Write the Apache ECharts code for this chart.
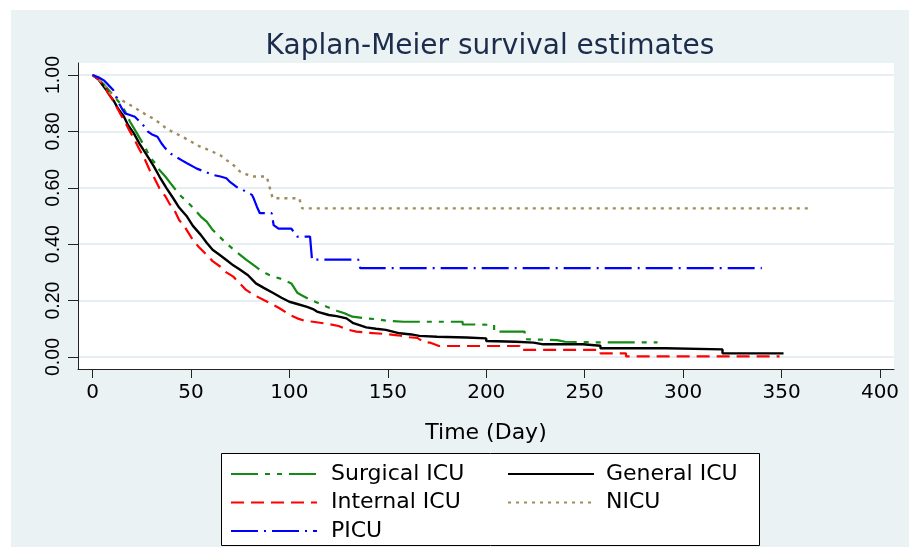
<!DOCTYPE html>
<html>
<head>
<meta charset="utf-8">
<script src="https://cdn.jsdelivr.net/npm/echarts@6/dist/echarts.min.js"></script>
<style>html,body{margin:0;padding:0;background:#fff}#c{width:909px;height:547px}</style>
</head>
<body>
<div id="c"></div>
<script>
// ---- data ----
const xTicks = [0, 50, 100, 150, 200, 250, 300, 350, 400];
const yTicks = [0, 0.2, 0.4, 0.6, 0.8, 1.0];
const seriesNames = ['Surgical ICU', 'General ICU', 'Internal ICU', 'NICU', 'PICU'];

// Kaplan-Meier curves as vertices; a repeated day marks a visible vertical step
const surgicalDays = [0,3,6,9,12,14,17,19,22,24,27,29,32,34,37,39,42,45,48,51,55,58,61,64,68,71,75,78,81,85,88,91,95,98,101,102,104,106,110,114,119,124,128,132,138,144,150,158,188,188,204,204,219.5,219.5,236,240,256,287];
const surgicalSurv = [1.000,0.985,0.965,0.941,0.915,0.900,0.866,0.835,0.800,0.776,0.740,0.711,0.685,0.663,0.640,0.622,0.595,0.570,0.551,0.530,0.498,0.480,0.451,0.430,0.403,0.385,0.362,0.345,0.330,0.309,0.297,0.287,0.279,0.270,0.261,0.261,0.228,0.220,0.205,0.193,0.178,0.164,0.155,0.143,0.138,0.134,0.128,0.125,0.125,0.116,0.114,0.090,0.090,0.063,0.060,0.054,0.052,0.052];

const generalDays = [0,3,5,7,9,11,13,16,18,21,24,27.5,31,34,37.5,41,44,48,51,55,58,61,65,68,71.5,75,79,83,87,92,96,100,104,109,112,114,120,124,129,132.5,136,139,144,149,156,162,166,175,190,200,200,215,224,229,249,249,258,258,291,291,320,320,351];
const generalSurv = [1.000,0.985,0.965,0.947,0.925,0.906,0.880,0.852,0.823,0.793,0.755,0.717,0.678,0.640,0.600,0.563,0.530,0.498,0.465,0.433,0.405,0.380,0.360,0.344,0.325,0.309,0.290,0.261,0.245,0.226,0.210,0.196,0.188,0.178,0.170,0.161,0.149,0.145,0.137,0.120,0.112,0.105,0.100,0.096,0.084,0.080,0.075,0.072,0.069,0.066,0.057,0.054,0.051,0.045,0.045,0.040,0.040,0.031,0.031,0.027,0.027,0.013,0.013];

const internalDays = [0,3,5.5,8,10,12,14,16,19,21,24,26,29,31,34,37,39,42,44,47,51,54,58,61,65,68,71.5,75,78,82,87,91,95,100,104,108,112,120,125,129,134,140,148,155,161,165,168,172,176,217,217,258,258,271,271,349];
const internalSurv = [1.000,0.985,0.965,0.935,0.915,0.890,0.864,0.840,0.800,0.775,0.734,0.710,0.663,0.640,0.598,0.570,0.545,0.515,0.486,0.460,0.415,0.390,0.362,0.340,0.320,0.300,0.285,0.260,0.238,0.220,0.202,0.188,0.173,0.150,0.137,0.128,0.125,0.117,0.110,0.098,0.090,0.086,0.082,0.077,0.070,0.068,0.054,0.050,0.039,0.039,0.025,0.025,0.013,0.013,0.002,0.002];

const nicuDays = [0,3,6,9,12,16,20,24,27.5,31,34,38,41,44,48,53,55,58,61,65,68,72,75,78,82,88.5,91.5,105,106.5,364];
const nicuSurv = [1.000,0.985,0.965,0.935,0.920,0.906,0.890,0.873,0.858,0.845,0.830,0.808,0.797,0.787,0.772,0.752,0.745,0.737,0.728,0.715,0.699,0.678,0.657,0.648,0.640,0.640,0.563,0.563,0.527,0.527];

const picuDays = [0,3,6,8,10.5,12,13,15,16.5,19,21.5,24,26,28,30,33,35,37,40,42,45,48,53,56,61,65,68,70,73,77,81,82,83.5,85,91,92,94.5,101,104,110.5,111.5,135,136,340];
const picuSurv = [1.000,0.992,0.980,0.965,0.947,0.925,0.906,0.880,0.864,0.858,0.852,0.835,0.820,0.800,0.790,0.781,0.758,0.740,0.720,0.711,0.699,0.687,0.668,0.660,0.646,0.640,0.634,0.620,0.604,0.590,0.575,0.560,0.533,0.510,0.510,0.468,0.455,0.455,0.427,0.427,0.345,0.345,0.315,0.315];

// ---- build ----
const pairs = (d, s) => d.map((v, i) => [v, s[i]]);
const styles = {
  'Surgical ICU': { color: '#138a13', width: 2.2, type: [27, 7, 5, 7, 5, 7] },
  'General ICU':  { color: '#000000', width: 2.4, type: 'solid' },
  'Internal ICU': { color: '#ff0000', width: 2.2, type: [13, 7] },
  'NICU':         { color: '#a08c5a', width: 2.4, type: [3, 5] },
  'PICU':         { color: '#0000ff', width: 2.2, type: [27, 6, 2, 6] }
};
const dataMap = {
  'Surgical ICU': pairs(surgicalDays, surgicalSurv),
  'General ICU': pairs(generalDays, generalSurv),
  'Internal ICU': pairs(internalDays, internalSurv),
  'NICU': pairs(nicuDays, nicuSurv),
  'PICU': pairs(picuDays, picuSurv)
};

const chart = echarts.init(document.getElementById('c'), null, { renderer: 'canvas' });
const pxPerDay = (880 - 92.5) / 400;
const xMin = -(92.5 - 78) / pxPerDay;
const xMax = (894 - 92.5) / pxPerDay;
const pxPerUnit = (357 - 75);
const yPad = 12 / pxPerUnit;

const legendCommon = {
  orient: 'vertical', itemWidth: 86, itemHeight: 14, itemGap: 6.5, padding: 0,
  height: 90, selectedMode: false,
  itemStyle: { opacity: 0 },
  textStyle: { fontSize: 22, fontFamily: 'DejaVu Sans', color: '#000' }
};

chart.setOption({
  backgroundColor: '#eaf2f3',
  animation: false,
  title: {
    text: 'Kaplan-Meier survival estimates',
    left: 485, top: 28, textAlign: 'center',
    textStyle: { fontSize: 28, fontWeight: 'normal', fontFamily: 'DejaVu Sans', color: '#1c2c4c' }
  },
  graphic: [
    { type: 'rect', shape: { x: 0, y: 0, width: 11, height: 547 }, style: { fill: '#fff' }, silent: true },
    { type: 'rect', shape: { x: 0, y: 0, width: 909, height: 10 }, style: { fill: '#fff' }, silent: true },
    { type: 'rect', shape: { x: 221.5, y: 453.5, width: 538, height: 92 }, style: { fill: '#fff', stroke: '#000', lineWidth: 1 }, silent: true, z: 1 }
  ],
  legend: [
    Object.assign({}, legendCommon, { data: ['Surgical ICU', 'Internal ICU', 'PICU'], left: 230, top: 463,
      textStyle: Object.assign({}, legendCommon.textStyle, { padding: [0, 0, 0, 9] }) }),
    Object.assign({}, legendCommon, { data: ['General ICU', 'NICU'], left: 507, top: 463,
      textStyle: Object.assign({}, legendCommon.textStyle, { padding: [0, 0, 0, 7] }) })
  ],
  grid: {
    left: 78, top: 63, right: 909 - 894, bottom: 547 - 369,
    show: true, backgroundColor: '#ffffff', borderWidth: 0
  },
  xAxis: {
    type: 'value', min: xMin, max: xMax,
    name: 'Time (Day)', nameLocation: 'middle', nameGap: 53,
    nameTextStyle: { fontSize: 22, fontFamily: 'DejaVu Sans', color: '#000' },
    axisLine: { show: true, onZero: false, lineStyle: { color: '#222', width: 1 } },
    axisTick: { show: true, length: 9, customValues: xTicks, lineStyle: { color: '#222', width: 1 } },
    axisLabel: { customValues: xTicks, fontSize: 20, fontFamily: 'DejaVu Sans', color: '#000', margin: 14 },
    splitLine: { show: false }
  },
  yAxis: {
    type: 'value', min: -yPad, max: 1 + yPad,
    axisLine: { show: true, onZero: false, lineStyle: { color: '#222', width: 1 } },
    axisTick: { show: true, length: 10, customValues: yTicks, lineStyle: { color: '#222', width: 1 } },
    axisLabel: { customValues: yTicks, rotate: 90, fontSize: 19.5, fontFamily: 'Liberation Sans', color: '#000', margin: 14,
      formatter: v => v.toFixed(2) },
    splitLine: { show: true, lineStyle: { color: '#e6eef1', width: 2 } }
  },
  series: seriesNames.map(n => ({
    name: n, type: 'line', symbol: 'none', showSymbol: false,
    data: dataMap[n],
    color: styles[n].color,
    lineStyle: { color: styles[n].color, width: styles[n].width, type: styles[n].type },
    emphasis: { disabled: true }
  }))
});
</script>
</body>
</html>
